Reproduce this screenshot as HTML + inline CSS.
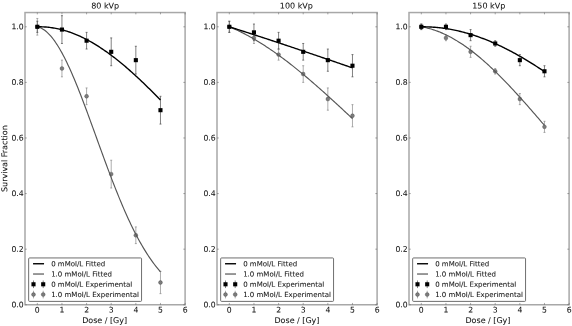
<!DOCTYPE html>
<html><head><meta charset="utf-8"><title>Survival Fraction</title>
<style>html,body{margin:0;padding:0;background:#fff}body{width:572px;height:326px;overflow:hidden}text{text-rendering:geometricPrecision;font-variant-ligatures:none;stroke:#111;stroke-width:.06px;stroke-linejoin:round}</style></head>
<body>
<svg width="572" height="326" viewBox="0 0 572 326" style="display:block;will-change:transform">
<rect width="572" height="326" fill="#fff"/>
<g font-family="'DejaVu Sans','Liberation Sans',sans-serif" fill="#111">
<path d="M37.32,18.46V35.14M36.32,18.46h2M36.32,35.14h2" stroke="#808080" stroke-width="0.65" fill="none"/>
<path d="M61.95,60.15V76.83M60.95,60.15h2M60.95,76.83h2" stroke="#808080" stroke-width="0.65" fill="none"/>
<path d="M86.58,87.95V104.63M85.58,87.95h2M85.58,104.63h2" stroke="#808080" stroke-width="0.65" fill="none"/>
<path d="M111.21,160.22V188.01M110.21,160.22h2M110.21,188.01h2" stroke="#808080" stroke-width="0.65" fill="none"/>
<path d="M135.84,226.92V243.60M134.84,226.92h2M134.84,243.60h2" stroke="#808080" stroke-width="0.65" fill="none"/>
<path d="M160.47,271.40V293.63M159.47,271.40h2M159.47,293.63h2" stroke="#808080" stroke-width="0.65" fill="none"/>
<path d="M37.32,21.24V32.36M36.32,21.24h2M36.32,32.36h2" stroke="#404040" stroke-width="0.66" fill="none"/>
<path d="M61.95,15.68V43.48M60.95,15.68h2M60.95,43.48h2" stroke="#404040" stroke-width="0.66" fill="none"/>
<path d="M86.58,32.36V49.04M85.58,32.36h2M85.58,49.04h2" stroke="#404040" stroke-width="0.66" fill="none"/>
<path d="M111.21,37.92V65.71M110.21,37.92h2M110.21,65.71h2" stroke="#404040" stroke-width="0.66" fill="none"/>
<path d="M135.84,46.26V74.05M134.84,46.26h2M134.84,74.05h2" stroke="#404040" stroke-width="0.66" fill="none"/>
<path d="M160.47,96.29V124.08M159.47,96.29h2M159.47,124.08h2" stroke="#404040" stroke-width="0.66" fill="none"/>
<circle cx="37.32" cy="26.80" r="1.95" fill="#7c7c7c" stroke="#333" stroke-width="0.3"/>
<circle cx="61.95" cy="68.49" r="1.95" fill="#7c7c7c" stroke="#333" stroke-width="0.3"/>
<circle cx="86.58" cy="96.29" r="1.95" fill="#7c7c7c" stroke="#333" stroke-width="0.3"/>
<circle cx="111.21" cy="174.11" r="1.95" fill="#7c7c7c" stroke="#333" stroke-width="0.3"/>
<circle cx="135.84" cy="235.26" r="1.95" fill="#7c7c7c" stroke="#333" stroke-width="0.3"/>
<circle cx="160.47" cy="282.51" r="1.95" fill="#7c7c7c" stroke="#333" stroke-width="0.3"/>
<path d="M37.32,26.80 L38.55,27.11 L39.78,27.54 L41.01,28.07 L42.24,28.72 L43.47,29.47 L44.70,30.33 L45.94,31.29 L47.17,32.37 L48.40,33.54 L49.63,34.82 L50.86,36.20 L52.09,37.68 L53.33,39.26 L54.56,40.93 L55.79,42.70 L57.02,44.56 L58.25,46.52 L59.48,48.56 L60.71,50.69 L61.95,52.90 L63.18,55.19 L64.41,57.56 L65.64,60.01 L66.87,62.53 L68.10,65.13 L69.34,67.79 L70.57,70.52 L71.80,73.30 L73.03,76.15 L74.26,79.06 L75.49,82.02 L76.72,85.03 L77.96,88.09 L79.19,91.19 L80.42,94.33 L81.65,97.51 L82.88,100.73 L84.11,103.98 L85.35,107.26 L86.58,110.56 L87.81,113.89 L89.04,117.23 L90.27,120.60 L91.50,123.97 L92.73,127.36 L93.97,130.76 L95.20,134.16 L96.43,137.56 L97.66,140.97 L98.89,144.37 L100.12,147.76 L101.36,151.15 L102.59,154.52 L103.82,157.88 L105.05,161.23 L106.28,164.56 L107.51,167.86 L108.74,171.15 L109.98,174.41 L111.21,177.64 L112.44,180.85 L113.67,184.02 L114.90,187.16 L116.13,190.27 L117.37,193.34 L118.60,196.37 L119.83,199.37 L121.06,202.33 L122.29,205.24 L123.52,208.11 L124.75,210.94 L125.99,213.72 L127.22,216.46 L128.45,219.15 L129.68,221.80 L130.91,224.40 L132.14,226.94 L133.38,229.44 L134.61,231.89 L135.84,234.29 L137.07,236.64 L138.30,238.94 L139.53,241.19 L140.76,243.38 L142.00,245.53 L143.23,247.62 L144.46,249.67 L145.69,251.66 L146.92,253.60 L148.15,255.50 L149.39,257.34 L150.62,259.13 L151.85,260.88 L153.08,262.57 L154.31,264.22 L155.54,265.82 L156.77,267.37 L158.01,268.88 L159.24,270.34 L160.47,271.75" stroke="#555555" stroke-width="1.15" fill="none"/>
<path d="M37.32,26.80 L38.55,26.78 L39.78,26.78 L41.01,26.80 L42.24,26.84 L43.47,26.89 L44.70,26.97 L45.94,27.05 L47.17,27.16 L48.40,27.28 L49.63,27.42 L50.86,27.58 L52.09,27.76 L53.33,27.95 L54.56,28.16 L55.79,28.39 L57.02,28.64 L58.25,28.90 L59.48,29.18 L60.71,29.47 L61.95,29.79 L63.18,30.12 L64.41,30.46 L65.64,30.83 L66.87,31.21 L68.10,31.60 L69.34,32.02 L70.57,32.45 L71.80,32.90 L73.03,33.36 L74.26,33.84 L75.49,34.33 L76.72,34.85 L77.96,35.37 L79.19,35.92 L80.42,36.48 L81.65,37.05 L82.88,37.64 L84.11,38.25 L85.35,38.87 L86.58,39.51 L87.81,40.16 L89.04,40.83 L90.27,41.51 L91.50,42.21 L92.73,42.92 L93.97,43.64 L95.20,44.38 L96.43,45.14 L97.66,45.91 L98.89,46.69 L100.12,47.49 L101.36,48.30 L102.59,49.12 L103.82,49.96 L105.05,50.81 L106.28,51.67 L107.51,52.55 L108.74,53.44 L109.98,54.34 L111.21,55.25 L112.44,56.18 L113.67,57.12 L114.90,58.07 L116.13,59.03 L117.37,60.01 L118.60,60.99 L119.83,61.99 L121.06,63.00 L122.29,64.02 L123.52,65.05 L124.75,66.09 L125.99,67.14 L127.22,68.20 L128.45,69.27 L129.68,70.36 L130.91,71.45 L132.14,72.55 L133.38,73.66 L134.61,74.78 L135.84,75.91 L137.07,77.04 L138.30,78.19 L139.53,79.34 L140.76,80.51 L142.00,81.68 L143.23,82.85 L144.46,84.04 L145.69,85.23 L146.92,86.43 L148.15,87.64 L149.39,88.86 L150.62,90.08 L151.85,91.31 L153.08,92.54 L154.31,93.78 L155.54,95.03 L156.77,96.28 L158.01,97.54 L159.24,98.80 L160.47,100.07" stroke="#000" stroke-width="1.38" fill="none"/>
<rect x="35.27" y="24.75" width="4.1" height="4.1" fill="#000"/>
<rect x="59.90" y="27.53" width="4.1" height="4.1" fill="#000"/>
<rect x="84.53" y="38.65" width="4.1" height="4.1" fill="#000"/>
<rect x="109.16" y="49.77" width="4.1" height="4.1" fill="#000"/>
<rect x="133.79" y="58.10" width="4.1" height="4.1" fill="#000"/>
<rect x="158.42" y="108.14" width="4.1" height="4.1" fill="#000"/>
<rect x="25.0" y="12.55" width="160.1" height="292.2" fill="none" stroke="#a8a8a8" stroke-width="1.5"/>
<path d="M37.32,304.75v-1.8M37.32,12.55v1.8M61.95,304.75v-1.8M61.95,12.55v1.8M86.58,304.75v-1.8M86.58,12.55v1.8M111.21,304.75v-1.8M111.21,12.55v1.8M135.84,304.75v-1.8M135.84,12.55v1.8M160.47,304.75v-1.8M160.47,12.55v1.8M185.10,304.75v-1.8M185.10,12.55v1.8M25.0,304.75h1.8M185.1,304.75h-1.8M25.0,249.16h1.8M185.1,249.16h-1.8M25.0,193.57h1.8M185.1,193.57h-1.8M25.0,137.98h1.8M185.1,137.98h-1.8M25.0,82.39h1.8M185.1,82.39h-1.8M25.0,26.80h1.8M185.1,26.80h-1.8" stroke="#555" stroke-width="0.5" fill="none"/>
<text transform="rotate(0.03 37.32 312.55)" x="37.32" y="312.55" font-size="7.7" text-anchor="middle">0</text>
<text transform="rotate(0.03 61.95 312.55)" x="61.95" y="312.55" font-size="7.7" text-anchor="middle">1</text>
<text transform="rotate(0.03 86.58 312.55)" x="86.58" y="312.55" font-size="7.7" text-anchor="middle">2</text>
<text transform="rotate(0.03 111.21 312.55)" x="111.21" y="312.55" font-size="7.7" text-anchor="middle">3</text>
<text transform="rotate(0.03 135.84 312.55)" x="135.84" y="312.55" font-size="7.7" text-anchor="middle">4</text>
<text transform="rotate(0.03 160.47 312.55)" x="160.47" y="312.55" font-size="7.7" text-anchor="middle">5</text>
<text transform="rotate(0.03 185.10 312.55)" x="185.10" y="312.55" font-size="7.7" text-anchor="middle">6</text>
<text transform="rotate(0.03 23.70 307.25)" x="23.70" y="307.25" font-size="7.7" text-anchor="end">0.0</text>
<text transform="rotate(0.03 23.70 251.66)" x="23.70" y="251.66" font-size="7.7" text-anchor="end">0.2</text>
<text transform="rotate(0.03 23.70 196.07)" x="23.70" y="196.07" font-size="7.7" text-anchor="end">0.4</text>
<text transform="rotate(0.03 23.70 140.48)" x="23.70" y="140.48" font-size="7.7" text-anchor="end">0.6</text>
<text transform="rotate(0.03 23.70 84.89)" x="23.70" y="84.89" font-size="7.7" text-anchor="end">0.8</text>
<text transform="rotate(0.03 23.70 29.30)" x="23.70" y="29.30" font-size="7.7" text-anchor="end">1.0</text>
<text transform="rotate(0.03 105.20 8.45)" x="105.20" y="8.45" font-size="8.0" text-anchor="middle">80 kVp</text>
<text transform="rotate(0.03 104.65 323.1)" x="104.65" y="323.1" font-size="7.98" text-anchor="middle">Dose / [Gy]</text>
<rect x="28.65" y="257.95" width="112.9" height="43.45" rx="0.9" fill="#fff" stroke="#555" stroke-width="0.85"/>
<path d="M33.05,263.75h11" stroke="#000" stroke-width="1.4"/>
<path d="M33.05,274.02h11" stroke="#555555" stroke-width="1.2"/>
<path d="M33.50,280.49v7.6" stroke="#404040" stroke-width="0.66"/>
<rect x="31.45" y="282.24" width="4.1" height="4.1" fill="#000"/>
<path d="M33.50,290.76v7.6" stroke="#808080" stroke-width="0.65"/>
<circle cx="33.50" cy="294.56" r="1.95" fill="#7c7c7c" stroke="#333" stroke-width="0.3"/>
<path d="M43.20,280.49v7.6" stroke="#404040" stroke-width="0.66"/>
<rect x="41.15" y="282.24" width="4.1" height="4.1" fill="#000"/>
<path d="M43.20,290.76v7.6" stroke="#808080" stroke-width="0.65"/>
<circle cx="43.20" cy="294.56" r="1.95" fill="#7c7c7c" stroke="#333" stroke-width="0.3"/>
<text transform="rotate(0.03 51.15 266.25)" x="51.15" y="266.25" font-size="7.03">0 mMol/L Fitted</text>
<text transform="rotate(0.03 51.15 276.52)" x="51.15" y="276.52" font-size="7.03">1.0 mMol/L Fitted</text>
<text transform="rotate(0.03 51.15 286.79)" x="51.15" y="286.79" font-size="7.03">0 mMol/L Experimental</text>
<text transform="rotate(0.03 51.15 297.06)" x="51.15" y="297.06" font-size="7.03">1.0 mMol/L Experimental</text>
<path d="M229.32,21.24V32.36M228.32,21.24h2M228.32,32.36h2" stroke="#808080" stroke-width="0.65" fill="none"/>
<path d="M253.95,32.36V43.48M252.95,32.36h2M252.95,43.48h2" stroke="#808080" stroke-width="0.65" fill="none"/>
<path d="M278.58,49.04V60.15M277.58,49.04h2M277.58,60.15h2" stroke="#808080" stroke-width="0.65" fill="none"/>
<path d="M303.21,65.71V82.39M302.21,65.71h2M302.21,82.39h2" stroke="#808080" stroke-width="0.65" fill="none"/>
<path d="M327.84,87.95V110.19M326.84,87.95h2M326.84,110.19h2" stroke="#808080" stroke-width="0.65" fill="none"/>
<path d="M352.47,104.63V126.86M351.47,104.63h2M351.47,126.86h2" stroke="#808080" stroke-width="0.65" fill="none"/>
<path d="M229.32,21.24V32.36M228.32,21.24h2M228.32,32.36h2" stroke="#404040" stroke-width="0.66" fill="none"/>
<path d="M253.95,24.02V40.70M252.95,24.02h2M252.95,40.70h2" stroke="#404040" stroke-width="0.66" fill="none"/>
<path d="M278.58,32.36V49.04M277.58,32.36h2M277.58,49.04h2" stroke="#404040" stroke-width="0.66" fill="none"/>
<path d="M303.21,43.48V60.15M302.21,43.48h2M302.21,60.15h2" stroke="#404040" stroke-width="0.66" fill="none"/>
<path d="M327.84,49.04V71.27M326.84,49.04h2M326.84,71.27h2" stroke="#404040" stroke-width="0.66" fill="none"/>
<path d="M352.47,54.59V76.83M351.47,54.59h2M351.47,76.83h2" stroke="#404040" stroke-width="0.66" fill="none"/>
<circle cx="229.32" cy="26.80" r="1.95" fill="#7c7c7c" stroke="#333" stroke-width="0.3"/>
<circle cx="253.95" cy="37.92" r="1.95" fill="#7c7c7c" stroke="#333" stroke-width="0.3"/>
<circle cx="278.58" cy="54.59" r="1.95" fill="#7c7c7c" stroke="#333" stroke-width="0.3"/>
<circle cx="303.21" cy="74.05" r="1.95" fill="#7c7c7c" stroke="#333" stroke-width="0.3"/>
<circle cx="327.84" cy="99.07" r="1.95" fill="#7c7c7c" stroke="#333" stroke-width="0.3"/>
<circle cx="352.47" cy="115.74" r="1.95" fill="#7c7c7c" stroke="#333" stroke-width="0.3"/>
<path d="M229.32,26.80 L230.55,27.31 L231.78,27.83 L233.01,28.36 L234.24,28.90 L235.47,29.46 L236.70,30.02 L237.94,30.60 L239.17,31.18 L240.40,31.78 L241.63,32.39 L242.86,33.00 L244.09,33.63 L245.33,34.27 L246.56,34.92 L247.79,35.58 L249.02,36.25 L250.25,36.93 L251.48,37.62 L252.71,38.32 L253.95,39.03 L255.18,39.75 L256.41,40.48 L257.64,41.22 L258.87,41.97 L260.10,42.72 L261.34,43.49 L262.57,44.27 L263.80,45.05 L265.03,45.85 L266.26,46.65 L267.49,47.46 L268.72,48.28 L269.96,49.11 L271.19,49.95 L272.42,50.80 L273.65,51.65 L274.88,52.52 L276.11,53.39 L277.35,54.27 L278.58,55.15 L279.81,56.05 L281.04,56.95 L282.27,57.86 L283.50,58.78 L284.73,59.71 L285.97,60.64 L287.20,61.58 L288.43,62.52 L289.66,63.48 L290.89,64.44 L292.12,65.40 L293.36,66.38 L294.59,67.36 L295.82,68.34 L297.05,69.34 L298.28,70.34 L299.51,71.34 L300.74,72.35 L301.98,73.37 L303.21,74.39 L304.44,75.42 L305.67,76.45 L306.90,77.49 L308.13,78.53 L309.37,79.58 L310.60,80.64 L311.83,81.70 L313.06,82.76 L314.29,83.83 L315.52,84.90 L316.75,85.98 L317.99,87.06 L319.22,88.15 L320.45,89.24 L321.68,90.33 L322.91,91.43 L324.14,92.53 L325.38,93.63 L326.61,94.74 L327.84,95.85 L329.07,96.97 L330.30,98.09 L331.53,99.21 L332.76,100.33 L334.00,101.46 L335.23,102.59 L336.46,103.72 L337.69,104.85 L338.92,105.99 L340.15,107.13 L341.39,108.27 L342.62,109.42 L343.85,110.56 L345.08,111.71 L346.31,112.86 L347.54,114.01 L348.77,115.16 L350.01,116.31 L351.24,117.47 L352.47,118.62" stroke="#555555" stroke-width="1.15" fill="none"/>
<path d="M229.32,26.80 L230.55,27.19 L231.78,27.58 L233.01,27.97 L234.24,28.36 L235.47,28.75 L236.70,29.14 L237.94,29.54 L239.17,29.93 L240.40,30.32 L241.63,30.72 L242.86,31.11 L244.09,31.51 L245.33,31.91 L246.56,32.30 L247.79,32.70 L249.02,33.10 L250.25,33.49 L251.48,33.89 L252.71,34.29 L253.95,34.69 L255.18,35.09 L256.41,35.49 L257.64,35.89 L258.87,36.29 L260.10,36.70 L261.34,37.10 L262.57,37.50 L263.80,37.90 L265.03,38.31 L266.26,38.71 L267.49,39.12 L268.72,39.52 L269.96,39.93 L271.19,40.33 L272.42,40.74 L273.65,41.15 L274.88,41.55 L276.11,41.96 L277.35,42.37 L278.58,42.78 L279.81,43.19 L281.04,43.60 L282.27,44.00 L283.50,44.42 L284.73,44.83 L285.97,45.24 L287.20,45.65 L288.43,46.06 L289.66,46.47 L290.89,46.88 L292.12,47.30 L293.36,47.71 L294.59,48.12 L295.82,48.54 L297.05,48.95 L298.28,49.37 L299.51,49.78 L300.74,50.20 L301.98,50.61 L303.21,51.03 L304.44,51.44 L305.67,51.86 L306.90,52.28 L308.13,52.69 L309.37,53.11 L310.60,53.53 L311.83,53.95 L313.06,54.37 L314.29,54.79 L315.52,55.20 L316.75,55.62 L317.99,56.04 L319.22,56.46 L320.45,56.88 L321.68,57.30 L322.91,57.73 L324.14,58.15 L325.38,58.57 L326.61,58.99 L327.84,59.41 L329.07,59.83 L330.30,60.26 L331.53,60.68 L332.76,61.10 L334.00,61.52 L335.23,61.95 L336.46,62.37 L337.69,62.79 L338.92,63.22 L340.15,63.64 L341.39,64.07 L342.62,64.49 L343.85,64.92 L345.08,65.34 L346.31,65.77 L347.54,66.19 L348.77,66.62 L350.01,67.04 L351.24,67.47 L352.47,67.90" stroke="#000" stroke-width="1.38" fill="none"/>
<rect x="227.27" y="24.75" width="4.1" height="4.1" fill="#000"/>
<rect x="251.90" y="30.31" width="4.1" height="4.1" fill="#000"/>
<rect x="276.53" y="38.65" width="4.1" height="4.1" fill="#000"/>
<rect x="301.16" y="49.77" width="4.1" height="4.1" fill="#000"/>
<rect x="325.79" y="58.10" width="4.1" height="4.1" fill="#000"/>
<rect x="350.42" y="63.66" width="4.1" height="4.1" fill="#000"/>
<rect x="217.0" y="12.55" width="160.1" height="292.2" fill="none" stroke="#a8a8a8" stroke-width="1.5"/>
<path d="M229.32,304.75v-1.8M229.32,12.55v1.8M253.95,304.75v-1.8M253.95,12.55v1.8M278.58,304.75v-1.8M278.58,12.55v1.8M303.21,304.75v-1.8M303.21,12.55v1.8M327.84,304.75v-1.8M327.84,12.55v1.8M352.47,304.75v-1.8M352.47,12.55v1.8M377.10,304.75v-1.8M377.10,12.55v1.8M217.0,304.75h1.8M377.1,304.75h-1.8M217.0,249.16h1.8M377.1,249.16h-1.8M217.0,193.57h1.8M377.1,193.57h-1.8M217.0,137.98h1.8M377.1,137.98h-1.8M217.0,82.39h1.8M377.1,82.39h-1.8M217.0,26.80h1.8M377.1,26.80h-1.8" stroke="#555" stroke-width="0.5" fill="none"/>
<text transform="rotate(0.03 229.32 312.55)" x="229.32" y="312.55" font-size="7.7" text-anchor="middle">0</text>
<text transform="rotate(0.03 253.95 312.55)" x="253.95" y="312.55" font-size="7.7" text-anchor="middle">1</text>
<text transform="rotate(0.03 278.58 312.55)" x="278.58" y="312.55" font-size="7.7" text-anchor="middle">2</text>
<text transform="rotate(0.03 303.21 312.55)" x="303.21" y="312.55" font-size="7.7" text-anchor="middle">3</text>
<text transform="rotate(0.03 327.84 312.55)" x="327.84" y="312.55" font-size="7.7" text-anchor="middle">4</text>
<text transform="rotate(0.03 352.47 312.55)" x="352.47" y="312.55" font-size="7.7" text-anchor="middle">5</text>
<text transform="rotate(0.03 377.10 312.55)" x="377.10" y="312.55" font-size="7.7" text-anchor="middle">6</text>
<text transform="rotate(0.03 215.70 307.25)" x="215.70" y="307.25" font-size="7.7" text-anchor="end">0.0</text>
<text transform="rotate(0.03 215.70 251.66)" x="215.70" y="251.66" font-size="7.7" text-anchor="end">0.2</text>
<text transform="rotate(0.03 215.70 196.07)" x="215.70" y="196.07" font-size="7.7" text-anchor="end">0.4</text>
<text transform="rotate(0.03 215.70 140.48)" x="215.70" y="140.48" font-size="7.7" text-anchor="end">0.6</text>
<text transform="rotate(0.03 215.70 84.89)" x="215.70" y="84.89" font-size="7.7" text-anchor="end">0.8</text>
<text transform="rotate(0.03 215.70 29.30)" x="215.70" y="29.30" font-size="7.7" text-anchor="end">1.0</text>
<text transform="rotate(0.03 296.35 8.45)" x="296.35" y="8.45" font-size="8.0" text-anchor="middle">100 kVp</text>
<text transform="rotate(0.03 296.95 323.1)" x="296.95" y="323.1" font-size="7.98" text-anchor="middle">Dose / [Gy]</text>
<rect x="220.65" y="257.95" width="112.9" height="43.45" rx="0.9" fill="#fff" stroke="#555" stroke-width="0.85"/>
<path d="M225.05,263.75h11" stroke="#000" stroke-width="1.4"/>
<path d="M225.05,274.02h11" stroke="#555555" stroke-width="1.2"/>
<path d="M225.50,280.49v7.6" stroke="#404040" stroke-width="0.66"/>
<rect x="223.45" y="282.24" width="4.1" height="4.1" fill="#000"/>
<path d="M225.50,290.76v7.6" stroke="#808080" stroke-width="0.65"/>
<circle cx="225.50" cy="294.56" r="1.95" fill="#7c7c7c" stroke="#333" stroke-width="0.3"/>
<path d="M235.20,280.49v7.6" stroke="#404040" stroke-width="0.66"/>
<rect x="233.15" y="282.24" width="4.1" height="4.1" fill="#000"/>
<path d="M235.20,290.76v7.6" stroke="#808080" stroke-width="0.65"/>
<circle cx="235.20" cy="294.56" r="1.95" fill="#7c7c7c" stroke="#333" stroke-width="0.3"/>
<text transform="rotate(0.03 243.15 266.25)" x="243.15" y="266.25" font-size="7.03">0 mMol/L Fitted</text>
<text transform="rotate(0.03 243.15 276.52)" x="243.15" y="276.52" font-size="7.03">1.0 mMol/L Fitted</text>
<text transform="rotate(0.03 243.15 286.79)" x="243.15" y="286.79" font-size="7.03">0 mMol/L Experimental</text>
<text transform="rotate(0.03 243.15 297.06)" x="243.15" y="297.06" font-size="7.03">1.0 mMol/L Experimental</text>
<path d="M421.32,24.02V29.58M420.32,24.02h2M420.32,29.58h2" stroke="#808080" stroke-width="0.65" fill="none"/>
<path d="M445.95,35.14V40.70M444.95,35.14h2M444.95,40.70h2" stroke="#808080" stroke-width="0.65" fill="none"/>
<path d="M470.58,46.26V57.37M469.58,46.26h2M469.58,57.37h2" stroke="#808080" stroke-width="0.65" fill="none"/>
<path d="M495.21,68.49V74.05M494.21,68.49h2M494.21,74.05h2" stroke="#808080" stroke-width="0.65" fill="none"/>
<path d="M519.84,93.51V104.63M518.84,93.51h2M518.84,104.63h2" stroke="#808080" stroke-width="0.65" fill="none"/>
<path d="M544.47,121.30V132.42M543.47,121.30h2M543.47,132.42h2" stroke="#808080" stroke-width="0.65" fill="none"/>
<path d="M421.32,24.02V29.58M420.32,24.02h2M420.32,29.58h2" stroke="#404040" stroke-width="0.66" fill="none"/>
<path d="M445.95,24.02V29.58M444.95,24.02h2M444.95,29.58h2" stroke="#404040" stroke-width="0.66" fill="none"/>
<path d="M470.58,29.58V40.70M469.58,29.58h2M469.58,40.70h2" stroke="#404040" stroke-width="0.66" fill="none"/>
<path d="M495.21,40.70V46.26M494.21,40.70h2M494.21,46.26h2" stroke="#404040" stroke-width="0.66" fill="none"/>
<path d="M519.84,54.59V65.71M518.84,54.59h2M518.84,65.71h2" stroke="#404040" stroke-width="0.66" fill="none"/>
<path d="M544.47,65.71V76.83M543.47,65.71h2M543.47,76.83h2" stroke="#404040" stroke-width="0.66" fill="none"/>
<circle cx="421.32" cy="26.80" r="1.95" fill="#7c7c7c" stroke="#333" stroke-width="0.3"/>
<circle cx="445.95" cy="37.92" r="1.95" fill="#7c7c7c" stroke="#333" stroke-width="0.3"/>
<circle cx="470.58" cy="51.82" r="1.95" fill="#7c7c7c" stroke="#333" stroke-width="0.3"/>
<circle cx="495.21" cy="71.27" r="1.95" fill="#7c7c7c" stroke="#333" stroke-width="0.3"/>
<circle cx="519.84" cy="99.07" r="1.95" fill="#7c7c7c" stroke="#333" stroke-width="0.3"/>
<circle cx="544.47" cy="126.86" r="1.95" fill="#7c7c7c" stroke="#333" stroke-width="0.3"/>
<path d="M421.32,26.80 L422.55,27.01 L423.78,27.25 L425.01,27.50 L426.24,27.78 L427.47,28.07 L428.70,28.39 L429.94,28.72 L431.17,29.07 L432.40,29.45 L433.63,29.84 L434.86,30.25 L436.09,30.68 L437.33,31.13 L438.56,31.60 L439.79,32.09 L441.02,32.60 L442.25,33.13 L443.48,33.67 L444.71,34.24 L445.95,34.82 L447.18,35.42 L448.41,36.04 L449.64,36.68 L450.87,37.33 L452.10,38.01 L453.34,38.70 L454.57,39.41 L455.80,40.13 L457.03,40.88 L458.26,41.64 L459.49,42.41 L460.72,43.21 L461.96,44.02 L463.19,44.85 L464.42,45.69 L465.65,46.55 L466.88,47.42 L468.11,48.31 L469.35,49.22 L470.58,50.14 L471.81,51.08 L473.04,52.03 L474.27,53.00 L475.50,53.98 L476.73,54.98 L477.97,55.99 L479.20,57.01 L480.43,58.05 L481.66,59.10 L482.89,60.16 L484.12,61.24 L485.36,62.33 L486.59,63.44 L487.82,64.55 L489.05,65.68 L490.28,66.82 L491.51,67.97 L492.74,69.14 L493.98,70.31 L495.21,71.50 L496.44,72.69 L497.67,73.90 L498.90,75.12 L500.13,76.35 L501.37,77.59 L502.60,78.84 L503.83,80.09 L505.06,81.36 L506.29,82.64 L507.52,83.92 L508.75,85.21 L509.99,86.52 L511.22,87.83 L512.45,89.14 L513.68,90.47 L514.91,91.80 L516.14,93.14 L517.38,94.49 L518.61,95.84 L519.84,97.20 L521.07,98.57 L522.30,99.94 L523.53,101.32 L524.76,102.70 L526.00,104.09 L527.23,105.48 L528.46,106.88 L529.69,108.28 L530.92,109.69 L532.15,111.10 L533.39,112.52 L534.62,113.93 L535.85,115.36 L537.08,116.78 L538.31,118.21 L539.54,119.64 L540.77,121.07 L542.01,122.51 L543.24,123.94 L544.47,125.38" stroke="#555555" stroke-width="1.15" fill="none"/>
<path d="M421.32,26.80 L422.55,26.79 L423.78,26.80 L425.01,26.81 L426.24,26.84 L427.47,26.87 L428.70,26.91 L429.94,26.97 L431.17,27.03 L432.40,27.11 L433.63,27.19 L434.86,27.28 L436.09,27.39 L437.33,27.50 L438.56,27.62 L439.79,27.76 L441.02,27.90 L442.25,28.05 L443.48,28.22 L444.71,28.39 L445.95,28.57 L447.18,28.77 L448.41,28.97 L449.64,29.18 L450.87,29.40 L452.10,29.63 L453.34,29.88 L454.57,30.13 L455.80,30.39 L457.03,30.66 L458.26,30.94 L459.49,31.23 L460.72,31.53 L461.96,31.84 L463.19,32.15 L464.42,32.48 L465.65,32.82 L466.88,33.16 L468.11,33.52 L469.35,33.88 L470.58,34.26 L471.81,34.64 L473.04,35.03 L474.27,35.44 L475.50,35.85 L476.73,36.27 L477.97,36.69 L479.20,37.13 L480.43,37.58 L481.66,38.03 L482.89,38.50 L484.12,38.97 L485.36,39.45 L486.59,39.94 L487.82,40.44 L489.05,40.95 L490.28,41.47 L491.51,41.99 L492.74,42.52 L493.98,43.06 L495.21,43.61 L496.44,44.17 L497.67,44.74 L498.90,45.31 L500.13,45.89 L501.37,46.48 L502.60,47.08 L503.83,47.69 L505.06,48.30 L506.29,48.92 L507.52,49.55 L508.75,50.19 L509.99,50.83 L511.22,51.48 L512.45,52.14 L513.68,52.81 L514.91,53.48 L516.14,54.16 L517.38,54.85 L518.61,55.55 L519.84,56.25 L521.07,56.96 L522.30,57.68 L523.53,58.40 L524.76,59.13 L526.00,59.86 L527.23,60.61 L528.46,61.36 L529.69,62.11 L530.92,62.87 L532.15,63.64 L533.39,64.42 L534.62,65.20 L535.85,65.99 L537.08,66.78 L538.31,67.58 L539.54,68.38 L540.77,69.19 L542.01,70.01 L543.24,70.83 L544.47,71.66" stroke="#000" stroke-width="1.38" fill="none"/>
<rect x="419.27" y="24.75" width="4.1" height="4.1" fill="#000"/>
<rect x="443.90" y="24.75" width="4.1" height="4.1" fill="#000"/>
<rect x="468.53" y="33.09" width="4.1" height="4.1" fill="#000"/>
<rect x="493.16" y="41.43" width="4.1" height="4.1" fill="#000"/>
<rect x="517.79" y="58.10" width="4.1" height="4.1" fill="#000"/>
<rect x="542.42" y="69.22" width="4.1" height="4.1" fill="#000"/>
<rect x="409.0" y="12.55" width="160.1" height="292.2" fill="none" stroke="#a8a8a8" stroke-width="1.5"/>
<path d="M421.32,304.75v-1.8M421.32,12.55v1.8M445.95,304.75v-1.8M445.95,12.55v1.8M470.58,304.75v-1.8M470.58,12.55v1.8M495.21,304.75v-1.8M495.21,12.55v1.8M519.84,304.75v-1.8M519.84,12.55v1.8M544.47,304.75v-1.8M544.47,12.55v1.8M569.10,304.75v-1.8M569.10,12.55v1.8M409.0,304.75h1.8M569.1,304.75h-1.8M409.0,249.16h1.8M569.1,249.16h-1.8M409.0,193.57h1.8M569.1,193.57h-1.8M409.0,137.98h1.8M569.1,137.98h-1.8M409.0,82.39h1.8M569.1,82.39h-1.8M409.0,26.80h1.8M569.1,26.80h-1.8" stroke="#555" stroke-width="0.5" fill="none"/>
<text transform="rotate(0.03 421.32 312.55)" x="421.32" y="312.55" font-size="7.7" text-anchor="middle">0</text>
<text transform="rotate(0.03 445.95 312.55)" x="445.95" y="312.55" font-size="7.7" text-anchor="middle">1</text>
<text transform="rotate(0.03 470.58 312.55)" x="470.58" y="312.55" font-size="7.7" text-anchor="middle">2</text>
<text transform="rotate(0.03 495.21 312.55)" x="495.21" y="312.55" font-size="7.7" text-anchor="middle">3</text>
<text transform="rotate(0.03 519.84 312.55)" x="519.84" y="312.55" font-size="7.7" text-anchor="middle">4</text>
<text transform="rotate(0.03 544.47 312.55)" x="544.47" y="312.55" font-size="7.7" text-anchor="middle">5</text>
<text transform="rotate(0.03 569.10 312.55)" x="569.10" y="312.55" font-size="7.7" text-anchor="middle">6</text>
<text transform="rotate(0.03 407.70 307.25)" x="407.70" y="307.25" font-size="7.7" text-anchor="end">0.0</text>
<text transform="rotate(0.03 407.70 251.66)" x="407.70" y="251.66" font-size="7.7" text-anchor="end">0.2</text>
<text transform="rotate(0.03 407.70 196.07)" x="407.70" y="196.07" font-size="7.7" text-anchor="end">0.4</text>
<text transform="rotate(0.03 407.70 140.48)" x="407.70" y="140.48" font-size="7.7" text-anchor="end">0.6</text>
<text transform="rotate(0.03 407.70 84.89)" x="407.70" y="84.89" font-size="7.7" text-anchor="end">0.8</text>
<text transform="rotate(0.03 407.70 29.30)" x="407.70" y="29.30" font-size="7.7" text-anchor="end">1.0</text>
<text transform="rotate(0.03 488.75 8.45)" x="488.75" y="8.45" font-size="8.0" text-anchor="middle">150 kVp</text>
<text transform="rotate(0.03 487.95 323.1)" x="487.95" y="323.1" font-size="7.98" text-anchor="middle">Dose / [Gy]</text>
<rect x="412.65" y="257.95" width="112.9" height="43.45" rx="0.9" fill="#fff" stroke="#555" stroke-width="0.85"/>
<path d="M417.05,263.75h11" stroke="#000" stroke-width="1.4"/>
<path d="M417.05,274.02h11" stroke="#555555" stroke-width="1.2"/>
<path d="M417.50,280.49v7.6" stroke="#404040" stroke-width="0.66"/>
<rect x="415.45" y="282.24" width="4.1" height="4.1" fill="#000"/>
<path d="M417.50,290.76v7.6" stroke="#808080" stroke-width="0.65"/>
<circle cx="417.50" cy="294.56" r="1.95" fill="#7c7c7c" stroke="#333" stroke-width="0.3"/>
<path d="M427.20,280.49v7.6" stroke="#404040" stroke-width="0.66"/>
<rect x="425.15" y="282.24" width="4.1" height="4.1" fill="#000"/>
<path d="M427.20,290.76v7.6" stroke="#808080" stroke-width="0.65"/>
<circle cx="427.20" cy="294.56" r="1.95" fill="#7c7c7c" stroke="#333" stroke-width="0.3"/>
<text transform="rotate(0.03 435.15 266.25)" x="435.15" y="266.25" font-size="7.03">0 mMol/L Fitted</text>
<text transform="rotate(0.03 435.15 276.52)" x="435.15" y="276.52" font-size="7.03">1.0 mMol/L Fitted</text>
<text transform="rotate(0.03 435.15 286.79)" x="435.15" y="286.79" font-size="7.03">0 mMol/L Experimental</text>
<text transform="rotate(0.03 435.15 297.06)" x="435.15" y="297.06" font-size="7.03">1.0 mMol/L Experimental</text>
<text transform="translate(7.3,158.65) rotate(-89.97)" font-size="8.0" text-anchor="middle">Survival Fraction</text>
</g></svg>
</body></html>
